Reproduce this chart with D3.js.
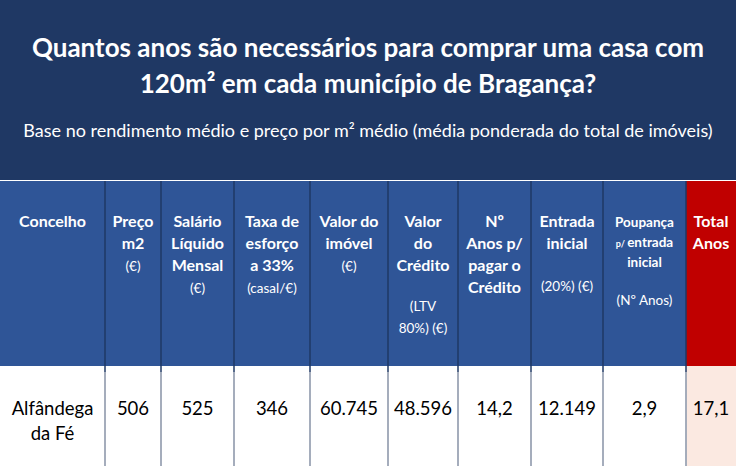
<!DOCTYPE html>
<html><head><meta charset="utf-8">
<script src="https://cdn.jsdelivr.net/npm/d3@7"></script>
<style>body{margin:0;background:#fff}svg{display:block;font-family:Lato,"Open Sans",sans-serif}</style>
</head><body><svg id="grafico" width="736" height="466"></svg>
<script>
// dados
const titulo = ["Quantos anos são necessários para comprar uma casa com", "120m² em cada município de Bragança?"];
const subtitulo = "Base no rendimento médio e preço por m² médio (média ponderada do total de imóveis)";
// cada linha: [texto, tipo, y]  b = negrito, s = pequeno
const cabecalhos = [
  [["Concelho","b",222]],
  [["Preço","b",222],["m2","b",244],["(€)","s",266]],
  [["Salário","b",222],["Líquido","b",244],["Mensal","b",266],["(€)","s",288]],
  [["Taxa de","b",222],["esforço","b",244],["a 33%","b",266],["(casal/€)","s",288]],
  [["Valor do","b",222],["imóvel","b",244],["(€)","s",266]],
  [["Valor","b",222],["do","b",244],["Crédito","b",266],["(LTV","s",306],["80%) (€)","s",328]],
  [["Nº","b",222],["Anos p/","b",244],["pagar o","b",266],["Crédito","b",288]],
  [["Entrada","b",222],["inicial","b",244],["(20%) (€)","s",286]],
  [["Poupança","bs",222],["p/ entrada","bp",242],["inicial","bs",262],["(Nº Anos)","s",300]],
  [["Total","b",222],["Anos","b",244]]
];
const concelho = ["Alfândega","da Fé"];
const valores = ["506","525","346","60.745","48.596","14,2","12.149","2,9","17,1"];

// layout
const larguras = [105,56,73,76,78,70,73,72,83,50];
const bordas = [0]; larguras.forEach((w,i)=>bordas.push(bordas[i]+w));
const svg = d3.select("#grafico");

svg.append("rect").attr("width",736).attr("height",180).attr("fill","#1f3864");
svg.selectAll(".tit").data(titulo).enter().append("text")
  .attr("x",368).attr("y",(d,i)=>57+i*36).attr("text-anchor","middle")
  .attr("fill","#fff").attr("font-weight","bold").attr("font-size",26).text(d=>d);
svg.append("text").attr("x",368).attr("y",137).attr("text-anchor","middle")
  .attr("fill","#fff").attr("font-size",18).text(subtitulo);

const col = svg.selectAll(".col").data(cabecalhos).enter().append("g")
  .attr("transform",(d,i)=>"translate("+bordas[i]+",0)");
col.append("rect").attr("y",181).attr("height",185)
  .attr("width",(d,i)=>larguras[i]).attr("fill",(d,i)=>i==9?"#c00000":"#2f5597");
col.append("rect").attr("y",366).attr("height",100)
  .attr("width",(d,i)=>larguras[i]).attr("fill",(d,i)=>i==9?"#fbe9e1":"#fff");
col.selectAll("text").data(d=>d).enter().append("text")
  .attr("x",function(){return larguras[cabecalhos.indexOf(d3.select(this.parentNode).datum())]/2;})
  .attr("y",d=>d[2]+5).attr("text-anchor","middle").attr("fill","#fff")
  .attr("font-weight",d=>d[1].startsWith("b")?"bold":"normal")
  .attr("font-size",d=>d[1]=="b"?16:13.5)
  .each(function(d){
    if(d[1]=="bp"){
      const t=d3.select(this);
      t.append("tspan").attr("font-size",9).text("p/ ");
      t.append("tspan").text(d[0].slice(3));
    } else d3.select(this).text(d[0]);
  });

// linhas verticais
svg.selectAll(".sep").data(bordas.slice(1,-1)).enter().append("line")
  .attr("x1",d=>d).attr("x2",d=>d).attr("y1",181).attr("y2",466)
  .attr("stroke","#1f3864").attr("stroke-width",1.5);
svg.selectAll(".sep2").data(bordas.slice(1,-1)).enter().append("line")
  .attr("x1",d=>d).attr("x2",d=>d).attr("y1",372).attr("y2",466)
  .attr("stroke","#bfc4cc").attr("stroke-width",1.5);

const corpo = svg.append("g").attr("font-size",18.5).attr("fill","#000").attr("text-anchor","middle");
corpo.selectAll(".c").data(concelho).enter().append("text")
  .attr("x",bordas[0]+larguras[0]/2).attr("y",(d,i)=>415+i*25).text(d=>d);
corpo.selectAll(".v").data(valores).enter().append("text")
  .attr("x",(d,i)=>bordas[i+1]+larguras[i+1]/2).attr("y",415).text(d=>d);
</script></body></html>
